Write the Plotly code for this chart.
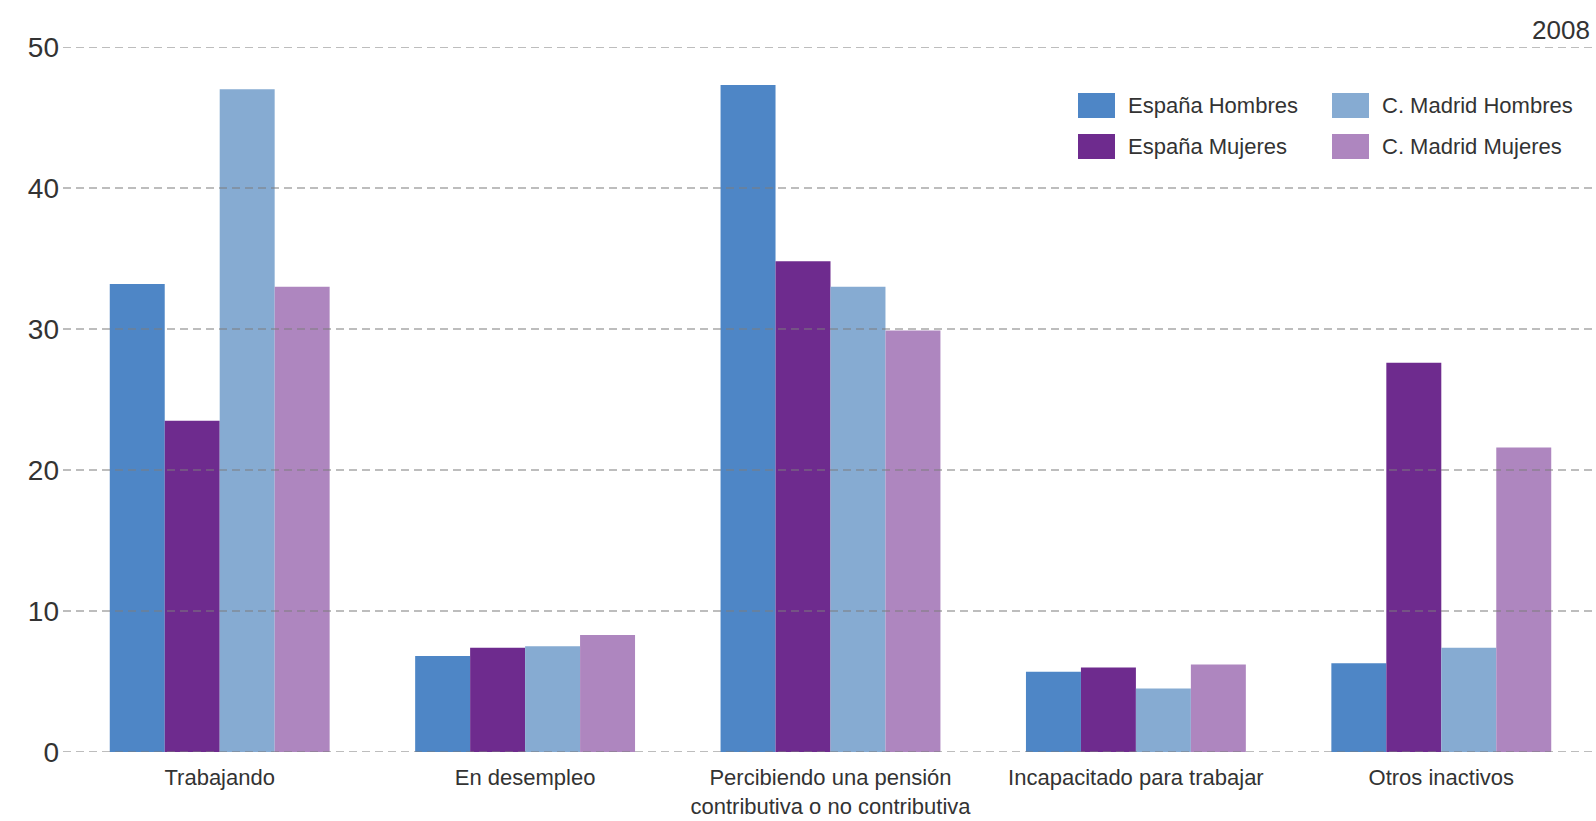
import plotly.graph_objects as go

categorias = ["Trabajando", "En desempleo",
              "Percibiendo una pensión<br>contributiva o no contributiva",
              "Incapacitado para trabajar", "Otros inactivos"]
series = ["España Hombres", "España Mujeres", "C. Madrid Hombres", "C. Madrid Mujeres"]
espana_hombres = [33.2, 6.8, 47.3, 5.7, 6.3]
espana_mujeres = [23.5, 7.4, 34.8, 6.0, 27.6]
madrid_hombres = [47.0, 7.5, 33.0, 4.5, 7.4]
madrid_mujeres = [33.0, 8.3, 29.9, 6.2, 21.6]
ticks_y = [0, 10, 20, 30, 40, 50]
colores = ["#4e86c6", "#6e2b8e", "#86abd2", "#ae86bf"]

valores = [espana_hombres, espana_mujeres, madrid_hombres, madrid_mujeres]

fig = go.Figure()
for nombre, vals, col in zip(series, valores, colores):
    fig.add_trace(go.Bar(x=categorias, y=vals, name=nombre, marker_color=col,
                         marker_line_width=0))

# area de trazado en pixeles
pl, pr, pt, pb = 67, 1594, 47, 752
W, H = pr - pl, pb - pt
def px_x(v): return (v - pl) / W
def px_y(v): return (pb - v) / H

# lineas de referencia discontinuas, por encima de las barras
for t in ticks_y:
    fig.add_shape(type="line", xref="paper", yref="y", x0=px_x(63), x1=px_x(1596),
                  y0=t, y1=t, layer="above",
                  line=dict(color="#7d7d7d", width=1.2, dash="8px,5px"))

# leyenda en dos columnas (cuadros + texto)
leyenda = [(0, 1078, 93), (1, 1078, 134), (2, 1332, 93), (3, 1332, 134)]
for i, x0, y0 in leyenda:
    fig.add_shape(type="rect", xref="paper", yref="paper",
                  x0=px_x(x0), x1=px_x(x0 + 37), y0=px_y(y0 + 25), y1=px_y(y0),
                  fillcolor=colores[i], line_width=0)
    fig.add_annotation(xref="paper", yref="paper", x=px_x(x0 + 48), y=px_y(y0 + 12),
                       text=series[i], showarrow=False, xanchor="left", yanchor="middle",
                       font=dict(size=22, color="#333333"))

fig.add_annotation(xref="paper", yref="paper", x=px_x(1592), y=px_y(30), text="2008",
                   showarrow=False, xanchor="right", yanchor="middle",
                   font=dict(size=26, color="#333333"))

fig.update_layout(
    width=1596, height=821,
    margin=dict(l=pl, r=1596 - pr, t=pt, b=821 - pb),
    barmode="group", bargap=0.28, bargroupgap=0,
    plot_bgcolor="white", paper_bgcolor="white",
    showlegend=False,
    font=dict(family="Liberation Sans, Arial, sans-serif", color="#333333"),
)
fig.update_xaxes(showline=False, ticks="", tickfont=dict(size=22), showgrid=False,
                 ticklabelstandoff=10)
fig.update_yaxes(range=[0, 50], tickvals=ticks_y, showgrid=False, zeroline=False,
                 tickfont=dict(size=28), ticklabelstandoff=7)

fig.write_html("out.html", config={"displayModeBar": False},
               post_script="document.body.style.margin='0';")
